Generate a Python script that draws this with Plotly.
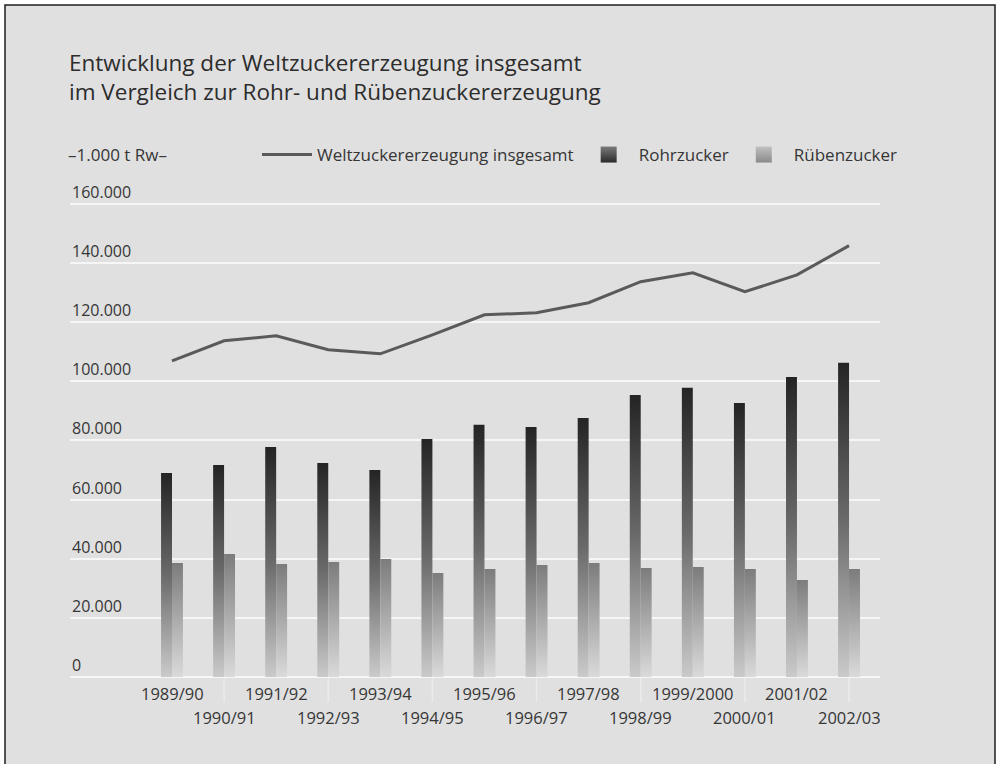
import plotly.graph_objects as go

# ---------------- data ----------------
seasons = ["1989/90", "1990/91", "1991/92", "1992/93", "1993/94", "1994/95", "1995/96",
           "1996/97", "1997/98", "1998/99", "1999/2000", "2000/01", "2001/02", "2002/03"]
welt_total = [106900, 113700, 115400, 110700, 109300, 115700, 122500,
              123200, 126600, 133700, 136700, 130300, 136000, 145900]
rohrzucker = [69000, 71700, 77800, 72400, 70000, 80500, 85300,
              84600, 87600, 95400, 97800, 92700, 101500, 106300]
ruebenzucker = [38600, 41600, 38200, 38900, 39900, 35200, 36500,
                37900, 38600, 36900, 37200, 36500, 32800, 36500]
y_ticks = [0, 20000, 40000, 60000, 80000, 100000, 120000, 140000, 160000]
y_tick_labels = ["0", "20.000", "40.000", "60.000", "80.000", "100.000", "120.000", "140.000", "160.000"]

title_lines = ["Entwicklung der Weltzuckererzeugung insgesamt",
               "im Vergleich zur Rohr- und Rübenzuckererzeugung"]
unit_label = "–1.000 t Rw–"
name_line = "Weltzuckererzeugung insgesamt"
name_rohr = "Rohrzucker"
name_rueben = "Rübenzucker"

# ---------------- layout geometry (pixels) ----------------
W, H = 997, 764
L, R, T, B = 70, 117, 201, 87
PW, PH = W - L - R, H - T - B
Y_MAX = 161000
BAR_W = 0.21
FONT = "Open Sans"
TXT = "#363636"


def px_x(p):
    return (p - L) / PW


def px_y(p):
    return (H - B - p) / PH


fig = go.Figure()

# bars drawn as gradient-filled columns on the data axes
for i, v in enumerate(rohrzucker):
    fig.add_trace(go.Scatter(
        x=[i - BAR_W, i - BAR_W, i, i, i - BAR_W], y=[0, v, v, 0, 0],
        mode="lines", fill="toself", line=dict(width=0),
        fillgradient=dict(type="vertical", colorscale=[[0, "#cacaca"], [0.5, "#6a6a6a"], [1, "#242424"]]),
        showlegend=False, hoverinfo="skip"))
for i, v in enumerate(ruebenzucker):
    fig.add_trace(go.Scatter(
        x=[i, i, i + BAR_W, i + BAR_W, i], y=[0, v, v, 0, 0],
        mode="lines", fill="toself", line=dict(width=0),
        fillgradient=dict(type="vertical", colorscale=[[0, "#dadada"], [1, "#7c7c7c"]]),
        showlegend=False, hoverinfo="skip"))

# total production line
fig.add_trace(go.Scatter(
    x=list(range(len(seasons))), y=welt_total, mode="lines", name=name_line,
    line=dict(color="#5a5a5a", width=3), legendrank=1))

# legend proxies for the bar series
fig.add_trace(go.Scatter(x=[None], y=[None], mode="markers", name=name_rohr, legendrank=2,
                         marker=dict(symbol="square", size=16, color="#7a7a7a",
                                     gradient=dict(type="vertical", color="#2a2a2a"))))
fig.add_trace(go.Scatter(x=[None], y=[None], mode="markers", name=name_rueben, legendrank=3,
                         marker=dict(symbol="square", size=16, color="#c0c0c0",
                                     gradient=dict(type="vertical", color="#8a8a8a"))))

annotations = []
# title
for k, line_txt in enumerate(title_lines):
    annotations.append(dict(text=line_txt, x=px_x(67), y=px_y(63 + 29 * k), xref="paper", yref="paper",
                            xanchor="left", yanchor="middle", showarrow=False,
                            font=dict(family=FONT, size=22.5, color="#2c2c2c")))
# unit
annotations.append(dict(text=unit_label, x=px_x(66), y=px_y(155), xref="paper", yref="paper",
                        xanchor="left", yanchor="middle", showarrow=False,
                        font=dict(family=FONT, size=17, color=TXT)))
# y tick labels (above gridlines)
for v, t in zip(y_ticks, y_tick_labels):
    annotations.append(dict(text=t, x=0, y=v, xref="paper", yref="y", xanchor="left",
                            yanchor="middle", yshift=12, showarrow=False,
                            font=dict(family=FONT, size=16, color=TXT)))
# x tick labels in two staggered rows
for i, s in enumerate(seasons):
    annotations.append(dict(text=s, x=i, y=0, xref="x", yref="paper", xanchor="center",
                            yanchor="middle", yshift=-16 if i % 2 == 0 else -40, showarrow=False,
                            font=dict(family=FONT, size=16.5, color=TXT)))

shapes = [
    dict(type="rect", xref="paper", yref="paper", x0=px_x(5), x1=px_x(995), y0=px_y(800), y1=px_y(5),
         fillcolor="#e0e0e0", line=dict(color="#1e1e1e", width=1.5), layer="below"),
]
for i in range(1, len(seasons), 2):
    shapes.append(dict(type="line", xref="x", yref="paper", x0=i, x1=i, y0=0, y1=px_y(702),
                       line=dict(color="#ebebeb", width=1.5), layer="below"))

fig.update_layout(
    width=W, height=H,
    margin=dict(l=L, r=R, t=T, b=B, pad=0),
    paper_bgcolor="white", plot_bgcolor="rgba(0,0,0,0)",
    font=dict(family=FONT, size=14, color=TXT),
    showlegend=True,
    legend=dict(orientation="h", x=px_x(257), y=px_y(155), xanchor="left", yanchor="middle",
                bgcolor="rgba(0,0,0,0)", font=dict(family=FONT, size=17, color=TXT),
                itemwidth=50, traceorder="normal", itemsizing="trace"),
    xaxis=dict(range=[(L - 172) / 52.08, (L + PW - 172) / 52.08], showgrid=False, zeroline=False,
               showticklabels=False, ticks="", showline=False, fixedrange=True),
    yaxis=dict(range=[0, Y_MAX], tickvals=y_ticks, showticklabels=False, ticks="",
               showgrid=True, gridcolor="#f6f6f6", gridwidth=2,
               zeroline=True, zerolinecolor="#f6f6f6", zerolinewidth=2, showline=False, fixedrange=True),
    annotations=annotations,
    shapes=shapes,
)

fig.write_html("out.html")
